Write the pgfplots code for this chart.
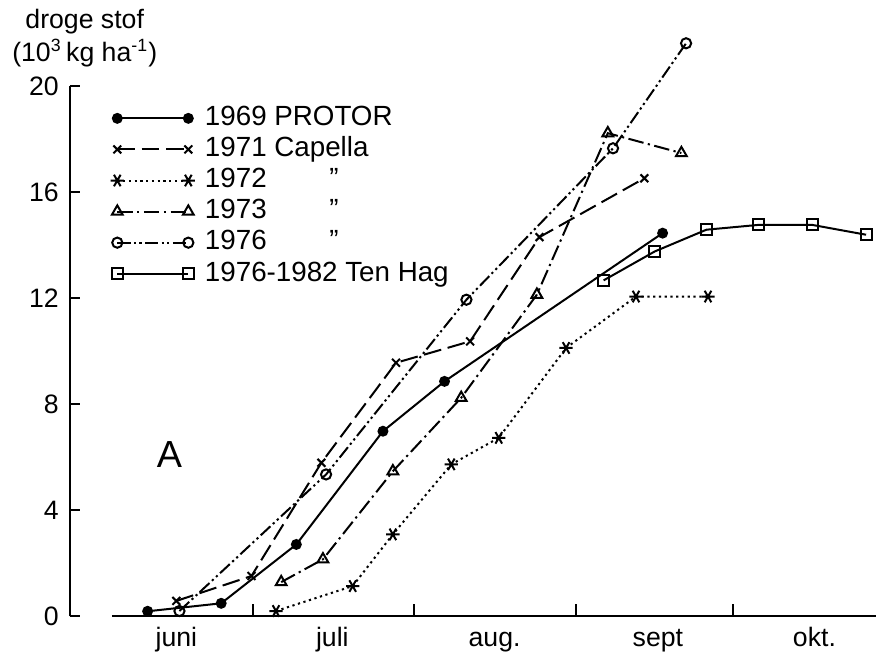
\documentclass[border=0pt]{standalone}
\usepackage{pgfplots}
\pgfplotsset{compat=1.18}
\usepackage{fontspec}
\setmainfont{Liberation Sans}

% day of year: 1 juni = 152, 1 juli = 182, 1 aug = 213, 1 sept = 244, 1 okt = 274
\begin{document}
\begin{tikzpicture}
\begin{axis}[
    scale only axis,
    width=363.15pt, height=262.8pt,
    xmin=147, xmax=301.5,
    ymin=0, ymax=22,
    axis x line=bottom, axis y line=left,
    axis line style={-, line width=0.9pt},
    x axis line style={shorten <=18.9pt},
    y axis line style={shorten >=23.85pt},
    tick align=inside,
    ytick={0,4,...,20},
    xtick={167.4,197.3,228.4,259.7,289.7},
    xticklabels={juni,juli,aug.,sept,okt.},
    major x tick style={draw=none},
    minor xtick={182,213,244,274},
    major tick length=4.5pt,
    minor tick length=5.4pt,
    tick style={line width=0.9pt, black},
    /pgf/number format/assume math mode=true,
    tick label style={font=\fontsize{12}{14}\selectfont},
    yticklabel style={xshift=-1.5pt},
    xticklabel style={text height=8.5pt, text depth=2.5pt, yshift=-1.5pt},
    ylabel={droge stof\\(10\textsuperscript{3}\,kg ha\textsuperscript{-1})},
    ylabel style={rotate=-90, at={(axis description cs:-0.072,1.042)}, anchor=north west,
        align=center, inner sep=0pt, font=\fontsize{12}{15}\selectfont},
    clip=false,
    legend style={at={(axis description cs:0.05,0.881)}, anchor=north west,
        draw=none, fill=none, inner sep=0pt, row sep=0pt,
        font=\fontsize{12.5}{14}\selectfont,
        nodes={inner sep=1.5pt, text height=8.8pt, text depth=2.2pt}},
    legend cell align=left,
    legend image code/.code={\draw[mark repeat=2,mark phase=1,#1]
        plot coordinates {(0pt,0pt) (16pt,0pt) (32pt,0pt)};},
    every axis plot/.append style={black, line width=0.9pt},
]
% 1969 PROTOR
\addplot[mark=*, mark size=2pt, mark options={solid}] coordinates {
    (161.9,0.19) (176.0,0.49) (190.4,2.71) (207.0,6.98) (218.8,8.86) (260.6,14.45)
};
\addlegendentry{\hspace{3pt}1969 PROTOR}
% 1971 Capella
\addplot[dash pattern=on 8pt off 3pt, mark=x, mark size=2.5pt, mark options={solid}] coordinates {
    (167.4,0.58) (181.8,1.52) (195.2,5.79) (209.5,9.56) (223.7,10.37) (237.0,14.30) (257.1,16.52)
};
\addlegendentry{\hspace{3pt}1971 Capella}
% 1972
\addplot[dash pattern=on 1pt off 1.6pt, mark=asterisk, mark size=3pt, mark options={solid, rotate=90}] coordinates {
    (186.5,0.20) (201.2,1.14) (208.9,3.09) (220.1,5.73) (229.2,6.73) (242.1,10.12) (255.5,12.06) (269.3,12.06)
};
\addlegendentry{\hspace{3pt}\makebox[56pt][l]{1972}''}
% 1973
\addplot[dash pattern=on 7pt off 2pt on 1pt off 2pt, mark=triangle, mark size=2.8pt, mark options={solid}] coordinates {
    (187.5,1.29) (195.5,2.15) (208.9,5.47) (222.0,8.24) (236.5,12.13) (250.1,18.22) (264.2,17.47)
};
\addlegendentry{\hspace{3pt}\makebox[56pt][l]{1973}''}
% 1976
\addplot[dash pattern=on 6pt off 1.5pt on 1pt off 1.5pt on 1pt off 1.5pt, mark=o, mark size=2.3pt, mark options={solid}] coordinates {
    (168.0,0.20) (196.1,5.35) (223.0,11.94) (251.1,17.65) (265.1,21.61)
};
\addlegendentry{\hspace{3pt}\makebox[56pt][l]{1976}''}
% 1976-1982 Ten Hag
\addplot[mark=square, mark size=2.5pt, mark options={solid}] coordinates {
    (249.3,12.67) (259.1,13.76) (269.0,14.58) (278.9,14.76) (289.3,14.76) (299.6,14.39)
};
\addlegendentry{\hspace{3pt}1976-1982 Ten Hag}

\node[font=\fontsize{17}{19}\selectfont] at (axis cs:166.1,6.1) {A};
\path (axis description cs:-0.0867,-0.0582) rectangle (axis description cs:1,1.0565);
\end{axis}
\end{tikzpicture}
\end{document}
